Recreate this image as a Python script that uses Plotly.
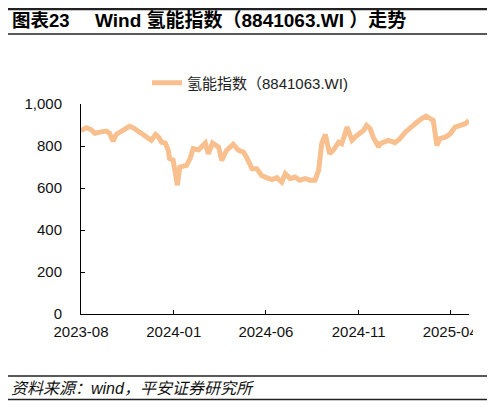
import plotly.graph_objects as go

# Wind 氢能指数 (8841063.WI)
dates = [
    "2023-08-01", "2023-08-10", "2023-08-18", "2023-08-24", "2023-09-01",
    "2023-09-12", "2023-09-17", "2023-09-23", "2023-09-28", "2023-10-04",
    "2023-10-12", "2023-10-20", "2023-10-26", "2023-11-03", "2023-11-11",
    "2023-11-20", "2023-11-25", "2023-12-02", "2023-12-07", "2023-12-12",
    "2023-12-18", "2023-12-23", "2023-12-25", "2023-12-31", "2024-01-04",
    "2024-01-07", "2024-01-11", "2024-01-22", "2024-01-28", "2024-02-02",
    "2024-02-11", "2024-02-22", "2024-02-27", "2024-03-05", "2024-03-15",
    "2024-03-20", "2024-03-28", "2024-04-08", "2024-04-17", "2024-04-25",
    "2024-04-30", "2024-05-09", "2024-05-17", "2024-05-25", "2024-06-02",
    "2024-06-11", "2024-06-19", "2024-06-27", "2024-07-03", "2024-07-08",
    "2024-07-11", "2024-07-19", "2024-07-27", "2024-08-05", "2024-08-13",
    "2024-08-21", "2024-08-27", "2024-09-01", "2024-09-07", "2024-09-14",
    "2024-09-20", "2024-09-29", "2024-10-04", "2024-10-13", "2024-10-21",
    "2024-10-29", "2024-11-09", "2024-11-14", "2024-11-20", "2024-11-25",
    "2024-12-04", "2024-12-06", "2024-12-12", "2024-12-20", "2024-12-31",
    "2025-01-08", "2025-01-17", "2025-01-28", "2025-02-05", "2025-02-13",
    "2025-02-20", "2025-02-27", "2025-03-04", "2025-03-10", "2025-03-15",
    "2025-03-24", "2025-04-01", "2025-04-09", "2025-04-17", "2025-04-26",
    "2025-05-02",
]
values = [
    874, 887, 877, 861, 866,
    871, 861, 823, 855, 866,
    882, 894, 887, 871, 858,
    842, 827, 855, 842, 818,
    814, 779, 740, 732, 652,
    613, 700, 708, 740, 787,
    782, 814, 763, 814, 795,
    731, 779, 808, 779, 771,
    747, 692, 692, 660, 649,
    640, 649, 628, 668, 649,
    645, 652, 637, 645, 637,
    637, 684, 811, 855, 763,
    779, 818, 811, 890, 827,
    850, 874, 898, 882, 842,
    795, 811, 820, 827, 816,
    835, 866, 898, 913, 930,
    942, 930, 922, 803, 835,
    842, 858, 890, 898, 906,
    922,
]

# the page body has an 8px margin, so the figure is sized to fit inside it
W, H = 487, 399
L, R, T, B = 73, 26, 96, 93
FONT = "Liberation Sans, Arial, Noto Sans CJK SC, sans-serif"


# helpers: page pixel position -> paper coordinate
def px(x):
    return (x - 8 - L) / (W - L - R)


def py(y):
    return (H - B - (y - 8)) / (H - T - B)


fig = go.Figure()
fig.add_trace(go.Scatter(
    x=dates, y=values, mode="lines",
    name="氢能指数（8841063.WI)",
    line=dict(color="#F8C08E", width=5),
))

fig.update_layout(
    width=W, height=H,
    margin=dict(l=L, r=R, t=T, b=B, autoexpand=False),
    paper_bgcolor="white", plot_bgcolor="white",
    font=dict(family=FONT, size=15, color="#111111"),
    showlegend=True,
    legend=dict(
        orientation="h", x=px(147), y=py(83), xanchor="left", yanchor="middle",
        font=dict(size=15, color="#222222"), bgcolor="rgba(0,0,0,0)",
    ),
    xaxis=dict(
        type="date", range=["2023-08-01", "2025-05-02"], automargin=False,
        tick0="2023-08-01", dtick="M5", tickformat="%Y-%m",
        showgrid=False, zeroline=False,
        showline=True, linecolor="black", linewidth=1,
        ticks="inside", ticklen=4, tickcolor="black",
        ticklabelstandoff=4,
        tickfont=dict(size=15, color="#111111"),
    ),
    yaxis=dict(
        range=[0, 1000], dtick=200, tickformat=",d", automargin=False,
        showgrid=False, zeroline=False,
        showline=True, linecolor="black", linewidth=1,
        ticks="inside", ticklen=4, tickcolor="black",
        ticklabelstandoff=15,
        tickfont=dict(size=15, color="#111111"),
    ),
)

# title and source text
fig.add_annotation(
    text="<b>图表23</b>", x=px(10), y=py(20), xref="paper", yref="paper",
    xanchor="left", yanchor="middle", showarrow=False,
    font=dict(size=18.5, color="black"),
)
fig.add_annotation(
    text="<b>Wind 氢能指数（8841063.WI ）走势</b>", x=px(93), y=py(20),
    xref="paper", yref="paper", xanchor="left", yanchor="middle",
    showarrow=False, font=dict(size=19, color="black"),
)
fig.add_annotation(
    text="<i>资料来源：wind，平安证券研究所</i>", x=px(9), y=py(388),
    xref="paper", yref="paper", xanchor="left", yanchor="middle",
    showarrow=False, font=dict(size=16, color="#111111"),
)

# rules above/below title and around source
for y, w in [(9, 2.5), (34, 1.5), (376, 1.5), (399.5, 1.5)]:
    fig.add_shape(type="line", xref="paper", yref="paper",
                  x0=px(8), x1=px(489), y0=py(y), y1=py(y),
                  line=dict(color="#222222", width=w))

# last tick label is clipped in the original
fig.add_shape(type="rect", xref="paper", yref="paper", layer="above",
              x0=px(473), x1=px(494), y0=py(317), y1=py(345),
              line=dict(width=0), fillcolor="white")

fig.write_html("out.html")
